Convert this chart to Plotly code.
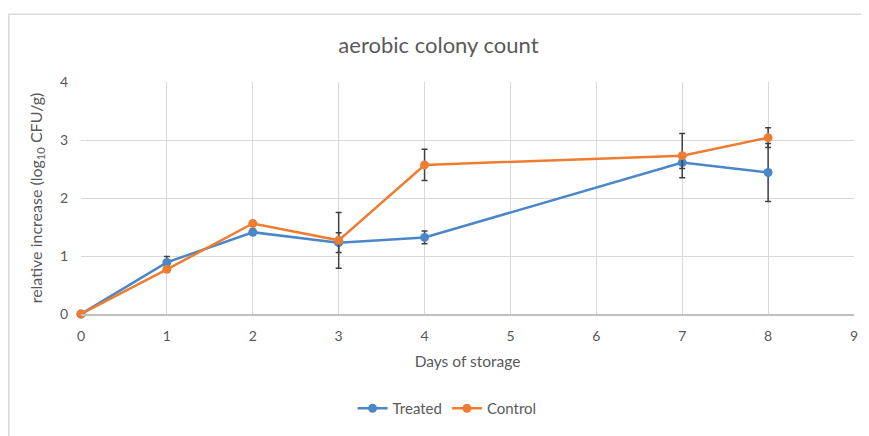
import plotly.graph_objects as go

# data
days = [0, 1, 2, 3, 4, 7, 8]
treated = [0, 0.89, 1.41, 1.23, 1.32, 2.61, 2.44]
treated_err = [0, 0.10, 0.05, 0.17, 0.11, 0.10, 0.50]
control = [0, 0.77, 1.56, 1.27, 2.57, 2.73, 3.04]
control_err = [0, 0.05, 0.03, 0.48, 0.27, 0.38, 0.17]

# the page puts the figure 8px in from the top-left corner
OFF = 8
W, H = 869 - OFF, 436 - OFF
L, R, T, B = 81 - OFF, 11, 82 - OFF, 121
grey_text = "#595959"
font_family = "Lato, 'Open Sans', sans-serif"


def px_to_paper(x, y):
    # screen pixels -> paper coordinates
    pw, ph = W - L - R, H - T - B
    return (x - OFF - L) / pw, (H - B - (y - OFF)) / ph


fig = go.Figure()

for name, vals, errs, color in [
    ("Treated", treated, treated_err, "#4a86c8"),
    ("Control", control, control_err, "#ed7d31"),
]:
    fig.add_trace(go.Scatter(
        x=days, y=vals, name=name, mode="lines+markers",
        line=dict(color=color, width=2.5),
        marker=dict(color=color, size=9),
        cliponaxis=False,
        error_y=dict(type="data", array=errs, visible=True,
                     color="#404040", thickness=1.5, width=3),
    ))

# faint frame around the chart area (top and left edge visible)
x0, y0 = px_to_paper(8.5, 14)
x1, y1 = px_to_paper(890, 460)
fig.add_shape(type="rect", xref="paper", yref="paper", x0=x0, y0=y1, x1=x1, y1=y0,
              line=dict(color="#d9d9d9", width=1.5), layer="below")

leg_x, leg_y = px_to_paper(449, 410)

fig.update_layout(
    width=W, height=H,
    margin=dict(l=L, r=R, t=T, b=B),
    paper_bgcolor="white", plot_bgcolor="white",
    font=dict(family=font_family, color=grey_text, size=14),
    title=dict(text="aerobic colony count", x=0.5, xanchor="center",
               y=1 - (45 - OFF) / H, yanchor="middle",
               font=dict(size=22, color=grey_text, family=font_family)),
    showlegend=True,
    legend=dict(orientation="h", x=leg_x, xanchor="center",
                y=leg_y, yanchor="middle", itemwidth=30,
                font=dict(size=15, color=grey_text)),
)

fig.update_xaxes(
    range=[0, 9], dtick=1, showgrid=True, gridcolor="#d9d9d9", gridwidth=1,
    zeroline=False, showline=True, linecolor="#bfbfbf", linewidth=1.5,
    ticks="", ticklabelstandoff=8, tickfont=dict(size=14, color=grey_text),
    title=dict(text="Days of storage", font=dict(size=15.5, color=grey_text), standoff=14),
)
fig.update_yaxes(
    range=[0, 4], dtick=1, showgrid=True, gridcolor="#d9d9d9", gridwidth=1,
    zeroline=False, showline=False, ticks="", ticklabelstandoff=12,
    tickfont=dict(size=14, color=grey_text),
    title=dict(text="relative increase (log<sub>10</sub> CFU/g)",
               font=dict(size=16, color=grey_text), standoff=13),
)

fig.write_html("out.html")
